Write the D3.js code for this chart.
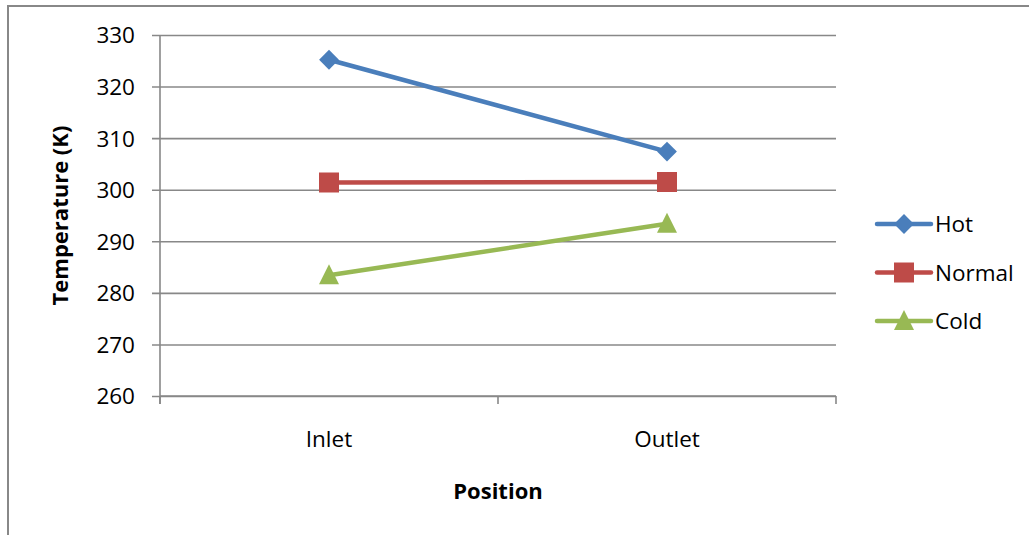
<!DOCTYPE html>
<html>
<head>
<meta charset="utf-8">
<script src="https://cdn.jsdelivr.net/npm/d3@7"></script>
<style>
  html, body { margin: 0; padding: 0; background: #fff; }
  svg { display: block; }
  text { font-family: "Open Sans", "Noto Sans", sans-serif; fill: #000; }
</style>
</head>
<body>
<svg id="chart" width="1029" height="535"></svg>
<script>
// Temperatures (K) at each measuring position
const positions = ["Inlet", "Outlet"];
const hotValues = [325.2, 307.4];
const normalValues = [301.4, 301.5];
const coldValues = [283.4, 293.4];
const seriesNames = ["Hot", "Normal", "Cold"];
const yTicks = [260, 270, 280, 290, 300, 310, 320, 330];

const series = [
  { name: seriesNames[0], values: hotValues, color: "#4A7EBB", marker: "diamond" },
  { name: seriesNames[1], values: normalValues, color: "#BE4B48", marker: "square" },
  { name: seriesNames[2], values: coldValues, color: "#98B954", marker: "triangle" }
];

const svg = d3.select("#chart");
const plot = { left: 160, right: 836, top: 35, bottom: 396 };
const gridColor = "#888888";
const labelSize = "22.5px";
const titleSize = "22px";

// Outer chart frame
svg.append("rect")
  .attr("x", 8).attr("y", 6)
  .attr("width", 1040).attr("height", 560)
  .attr("fill", "none").attr("stroke", "#888888").attr("stroke-width", 2);

const x = d3.scaleBand().domain(positions).range([plot.left, plot.right]);
const y = d3.scaleLinear().domain([260, 330]).range([plot.bottom, plot.top]);

// Horizontal gridlines with ticks extending left
const yAxis = d3.axisLeft(y).tickValues(yTicks).tickSize(-(plot.right - plot.left)).tickPadding(0).tickFormat(d3.format("d"));
const yg = svg.append("g").attr("transform", `translate(${plot.left},0)`).call(yAxis);
yg.select(".domain").remove();
yg.selectAll(".tick line").attr("stroke", gridColor).attr("stroke-width", 1.6).attr("x1", -8);
yg.selectAll(".tick text")
  .attr("x", -25).attr("dy", "0.35em")
  .style("font-size", labelSize).style("font-family", "'Open Sans', sans-serif");

// Vertical value axis line
svg.append("line")
  .attr("x1", plot.left).attr("x2", plot.left)
  .attr("y1", plot.top).attr("y2", plot.bottom + 8)
  .attr("stroke", gridColor).attr("stroke-width", 1.6);

// Category axis: line along the bottom, ticks at band boundaries
svg.append("line")
  .attr("x1", plot.left).attr("x2", plot.right)
  .attr("y1", plot.bottom).attr("y2", plot.bottom)
  .attr("stroke", gridColor).attr("stroke-width", 1.6);
const bounds = positions.map(p => x(p)).concat([x(positions[positions.length - 1]) + x.bandwidth()]);
svg.selectAll(".xtick").data(bounds).enter().append("line")
  .attr("x1", d => d).attr("x2", d => d)
  .attr("y1", plot.bottom).attr("y2", plot.bottom + 8)
  .attr("stroke", gridColor).attr("stroke-width", 1.6);
svg.selectAll(".xlabel").data(positions).enter().append("text")
  .attr("x", d => x(d) + x.bandwidth() / 2)
  .attr("y", 447)
  .attr("text-anchor", "middle")
  .style("font-size", labelSize)
  .text(d => d);

// Axis titles
svg.append("text")
  .attr("transform", `translate(68,${(plot.top + plot.bottom) / 2}) rotate(-90)`)
  .attr("text-anchor", "middle")
  .style("font-size", titleSize).style("font-weight", "bold")
  .text("Temperature (K)");
svg.append("text")
  .attr("x", (plot.left + plot.right) / 2).attr("y", 499)
  .attr("text-anchor", "middle")
  .style("font-size", titleSize).style("font-weight", "bold")
  .text("Position");

// Marker shapes
function markerPath(type) {
  if (type === "diamond") return d3.symbol().type(d3.symbolDiamond2).size(250)();
  if (type === "square") return "M-10,-10H10V10H-10Z";
  return "M0,-11L10,9H-10Z";
}

const line = d3.line()
  .x((d, i) => x(positions[i]) + x.bandwidth() / 2)
  .y(d => y(d));

series.forEach(s => {
  const g = svg.append("g");
  g.append("path")
    .datum(s.values)
    .attr("d", line)
    .attr("fill", "none")
    .attr("stroke", s.color)
    .attr("stroke-width", 4.5)
    .attr("stroke-linecap", "round");
  g.selectAll("path.m").data(s.values).enter().append("path")
    .attr("class", "m")
    .attr("transform", (d, i) => `translate(${x(positions[i]) + x.bandwidth() / 2},${y(d)})`)
    .attr("d", markerPath(s.marker))
    .attr("fill", s.color);
});

// Legend
const legend = svg.append("g");
series.forEach((s, i) => {
  const ly = 224 + i * 48.5;
  const g = legend.append("g").attr("transform", `translate(0,${ly})`);
  g.append("line")
    .attr("x1", 877).attr("x2", 931).attr("y1", 0).attr("y2", 0)
    .attr("stroke", s.color).attr("stroke-width", 4.5).attr("stroke-linecap", "round");
  g.append("path")
    .attr("transform", "translate(904,0)")
    .attr("d", markerPath(s.marker))
    .attr("fill", s.color);
  g.append("text")
    .attr("x", 935).attr("y", 0).attr("dy", "0.36em")
    .style("font-size", labelSize)
    .text(s.name);
});
</script>
</body>
</html>
